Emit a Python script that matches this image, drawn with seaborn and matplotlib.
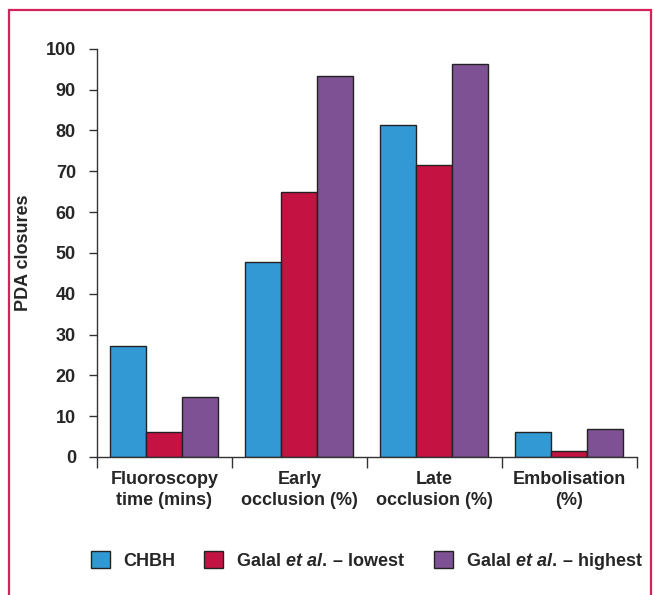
import pandas as pd
import matplotlib
matplotlib.use("Agg")
import matplotlib.pyplot as plt
import seaborn as sns
from matplotlib.patches import Rectangle, Patch
from matplotlib.ticker import FixedLocator

# -- data
measures = ["Fluoroscopy\ntime (mins)", "Early\nocclusion (%)",
            "Late\nocclusion (%)", "Embolisation\n(%)"]
groups = ["CHBH", "Galal $\\mathit{et\\ al.}\\,$\u2013 lowest",
          "Galal $\\mathit{et\\ al.}\\,$\u2013 highest"]
chbh = [27.2, 47.8, 81.3, 6.1]
galal_low = [6.1, 65.0, 71.6, 1.5]
galal_high = [14.8, 93.3, 96.3, 6.8]
colors = ["#3399d5", "#c41243", "#7d5193"]

df = pd.DataFrame({
    "measure": measures * 3,
    "value": chbh + galal_low + galal_high,
    "group": [g for g in groups for _ in measures],
})

sns.set_style("white")
plt.rcParams["font.family"] = ["Liberation Sans", "DejaVu Sans"]
plt.rcParams["font.weight"] = "bold"
plt.rcParams["mathtext.fontset"] = "custom"
plt.rcParams["mathtext.rm"] = "Liberation Sans:bold"
plt.rcParams["mathtext.it"] = "Liberation Sans:italic:bold"

fig = plt.figure(figsize=(6.54, 5.95), dpi=100)
ax = fig.add_axes([0.148, 0.232, 0.826, 0.686])

sns.barplot(data=df, x="measure", y="value", hue="group", palette=colors,
            saturation=1, width=0.8, edgecolor="#222222", linewidth=1.0,
            ax=ax, legend=False)

ax.set_ylim(0, 100)
ax.set_xlim(-0.5, 3.5)
ax.set_yticks(range(0, 101, 10))
ax.tick_params(axis="y", labelsize=13, length=6, width=1, direction="out",
               left=True, pad=9, color="#333333")
ax.tick_params(axis="x", which="major", length=0, labelsize=13, pad=10)
ax.xaxis.set_minor_locator(FixedLocator([-0.5, 0.5, 1.5, 2.5, 3.5]))
ax.tick_params(axis="x", which="minor", length=8, width=1, direction="out",
               bottom=True, color="#333333")
for lab in ax.get_xticklabels():
    lab.set_fontweight("bold")
    lab.set_linespacing(1.35)
for lab in ax.get_yticklabels():
    lab.set_fontweight("bold")
ax.set_xlabel("")
ax.set_ylabel("PDA closures", fontsize=13, fontweight="bold", labelpad=10)
sns.despine(ax=ax)
for s in ["left", "bottom"]:
    ax.spines[s].set_color("#333333")
    ax.spines[s].set_linewidth(1)

handles = [Patch(facecolor=c, edgecolor="#222222", linewidth=1) for c in colors]
fig.legend(handles, groups, loc="center", bbox_to_anchor=(0.561, 0.057),
           ncol=3, frameon=False, fontsize=13, handlelength=1.05,
           handleheight=1.05, handletextpad=0.72, columnspacing=1.6)

fig.patches.append(Rectangle((0.014, -0.02), 0.981, 1.003, transform=fig.transFigure,
                             fill=False, edgecolor="#d0245a", linewidth=1.6))

fig.savefig("out.png", dpi=100)
